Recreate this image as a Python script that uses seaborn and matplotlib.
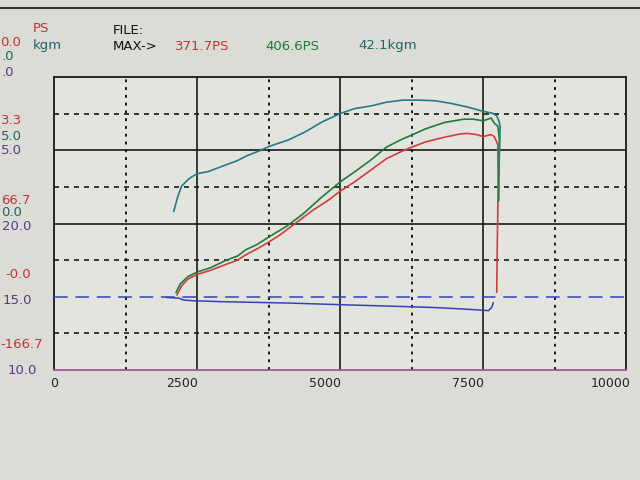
import matplotlib
matplotlib.use("Agg")
import matplotlib.pyplot as plt
import matplotlib.transforms as mtransforms
import pandas as pd
import seaborn as sns
from matplotlib.lines import Line2D

# ---------------- data ----------------
rpm_torque = [2093, 2164, 2232, 2360, 2500, 2696, 2976, 3200, 3368, 3592, 3760, 4096,
              4376, 4691, 5000, 5253, 5534, 5815, 6096, 6377, 6658, 6939, 7220, 7501,
              7669, 7740, 7785, 7800, 7790, 7780]
torque_kgm = [4.1, 9.2, 12.8, 15.3, 17.0, 17.7, 19.8, 21.4, 23.1, 24.8, 26.3, 28.5,
              31.1, 34.7, 37.5, 39.2, 40.1, 41.4, 42.1, 42.1, 41.9, 41.0, 39.8, 38.3,
              37.6, 36.8, 34.6, 32.9, 26.0, 20.0]

rpm_ps_corr = [2132, 2204, 2344, 2500, 2734, 3013, 3209, 3348, 3543, 3750, 4074, 4353,
               4688, 5000, 5253, 5534, 5815, 6096, 6236, 6489, 6826, 7164, 7332, 7501,
               7641, 7697, 7760, 7785, 7780, 7775]
ps_corr = [9.3, 28.8, 46, 56, 66, 83.3, 92.7, 106.7, 118.4, 135.5, 161, 188.5,
           227.4, 261, 283.9, 310.6, 340.7, 359.3, 366.8, 381.7, 396.6, 404, 404, 400.3,
           406.6, 395, 388, 360, 290, 218]

rpm_ps = [2148, 2232, 2344, 2500, 2734, 3013, 3209, 3348, 3571, 3750, 3962, 4241,
          4520, 4799, 5000, 5253, 5534, 5815, 6096, 6236, 6489, 6826, 7107, 7220,
          7388, 7501, 7641, 7697, 7760, 7765, 7750, 7740]
ps = [4, 25, 40.5, 50.6, 60, 74, 83.3, 95, 110.6, 123.9, 141.8, 169,
      196.4, 219.8, 240, 261.3, 287.8, 314.4, 331.8, 339.3, 352, 363, 370.5, 371.7,
      369, 364.5, 369, 364.5, 346, 250, 120, 10]

rpm_afr = [1968, 2192, 2260, 2416, 2976, 4096, 4992, 5776, 6616, 7176, 7456, 7596,
           7652, 7680]
afr = [14.95, 14.90, 14.78, 14.73, 14.66, 14.57, 14.46, 14.37, 14.27, 14.16, 14.09,
       14.05, 14.27, 14.59]
afr_target = 15.0

x_ticks = [0, 2500, 5000, 7500, 10000]
x_minor = [1250, 3750, 6250, 8750]
ps_lim = (-166.67, 500.0)
kgm_lim = (-50.0, 50.0)
afr_lim = (10.0, 30.0)

# left axis labels as visible on screen: (text, series, y-pixel, right-edge-pixel)
left_labels = [
    ("0.0", "ps", 42, 21), (".0", "kgm", 57, 14), (".0", "afr", 72, 14),
    ("3.3", "ps", 120, 22), ("5.0", "kgm", 136, 22), ("5.0", "afr", 151, 22),
    ("66.7", "ps", 200, 31), ("0.0", "kgm", 213, 22), ("20.0", "afr", 226, 31),
    ("-0.0", "ps", 274, 31), ("15.0", "afr", 300, 32),
    ("-166.7", "ps", 345, 43), ("10.0", "afr", 370, 37),
]

# ---------------- style ----------------
C_RED = "#d23c3c"
C_GREEN = "#1f7a3c"
C_TEAL = "#237c84"
C_BLUE = "#3442b8"
TXT = {"ps": "#c43434", "kgm": "#1e6666", "afr": "#5a3a86"}

sns.set_theme(style="white")
plt.rcParams["font.family"] = ["DejaVu Sans"]

fig = plt.figure(figsize=(6.4, 4.8), dpi=100)
fig.patch.set_facecolor("#dcdcd6")

L, R, T, B = 54, 626, 77, 370
ax = fig.add_axes([L / 640, 1 - B / 480, (R - L) / 640, (B - T) / 480])
ax.set_facecolor("#e4e4df")
ax2 = ax.twinx()
ax3 = ax.twinx()
for a in (ax2, ax3):
    a.set_facecolor("none")
    a.set_yticks([])
    for s in a.spines.values():
        s.set_visible(False)

ax.set_xlim(0, 10000)
ax.set_ylim(*ps_lim)
ax2.set_ylim(*kgm_lim)
ax3.set_ylim(*afr_lim)

# grid
for v in x_ticks[1:-1]:
    ax.axvline(v, color="#1a1a1a", lw=1.2, zorder=1)
for v in x_minor:
    ax.axvline(v, color="#1a1a1a", lw=1.4, ls=(0, (1.5, 2.5)), zorder=1)
step = (ps_lim[1] - ps_lim[0]) / 4
for k in (2, 3):  # solid horizontal lines (the one at the target line is hidden)
    ax.axhline(ps_lim[0] + k * step, color="#1a1a1a", lw=1.2, zorder=1)
for k in range(4):
    ax.axhline(ps_lim[0] + (k + 0.5) * step, color="#1a1a1a", lw=1.2,
               ls=(0, (3, 3)), zorder=1)

# curves
df_t = pd.DataFrame({"rpm": rpm_torque, "v": torque_kgm})
df_g = pd.DataFrame({"rpm": rpm_ps_corr, "v": ps_corr})
df_r = pd.DataFrame({"rpm": rpm_ps, "v": ps})
df_a = pd.DataFrame({"rpm": rpm_afr, "v": afr})

ax3.axhline(afr_target, color=C_BLUE, lw=1.1, ls=(0, (9, 5)), zorder=3)
sns.lineplot(data=df_a, x="rpm", y="v", ax=ax3, color=C_BLUE, lw=1.1,
             sort=False, estimator=None)
sns.lineplot(data=df_r, x="rpm", y="v", ax=ax, color=C_RED, lw=1.2,
             sort=False, estimator=None, zorder=4)
sns.lineplot(data=df_g, x="rpm", y="v", ax=ax, color=C_GREEN, lw=1.2,
             sort=False, estimator=None, zorder=5)
sns.lineplot(data=df_t, x="rpm", y="v", ax=ax2, color=C_TEAL, lw=1.2,
             sort=False, estimator=None)

for a in (ax, ax2, ax3):
    a.set_xlabel("")
    a.set_ylabel("")

ax.set_yticks([])
ax.set_xticks(x_ticks)
ax.set_xticklabels([str(v) for v in x_ticks], fontsize=9, color="#222222")
ax.tick_params(axis="x", length=0, pad=5)
for i, lab in enumerate(ax.get_xticklabels()):
    dx = 0 if i == 0 else -15
    lab.set_transform(lab.get_transform() +
                      mtransforms.ScaledTranslation(dx / 100, 0, fig.dpi_scale_trans))
for s in ("left", "top", "right"):
    ax.spines[s].set_color("#1a1a1a")
    ax.spines[s].set_linewidth(1.3)
ax.spines["bottom"].set_color("#9a5c9a")
ax.spines["bottom"].set_linewidth(1.3)

# header texts
def ftext(x, y, s, color, **kw):
    fig.text(x / 640, 1 - y / 480, s, color=color, fontsize=9.5, va="center", **kw)

ftext(33, 29, "PS", TXT["ps"])
ftext(33, 45, "kgm", TXT["kgm"])
ftext(113, 30, "FILE:", "#111111")
ftext(113, 46, "MAX->", "#111111")
ftext(175, 46, "371.7PS", TXT["ps"])
ftext(265, 46, "406.6PS", C_GREEN)
ftext(358, 46, "42.1kgm", TXT["kgm"])

for s, key, y, xr in left_labels:
    fig.text(xr / 640, 1 - y / 480, s, color=TXT[key], fontsize=9.5,
             ha="right", va="center")

fig.add_artist(Line2D([0, 1], [1 - 8 / 480] * 2, color="#333333", lw=1.5))

fig.savefig("out.png", dpi=100, facecolor=fig.get_facecolor())
